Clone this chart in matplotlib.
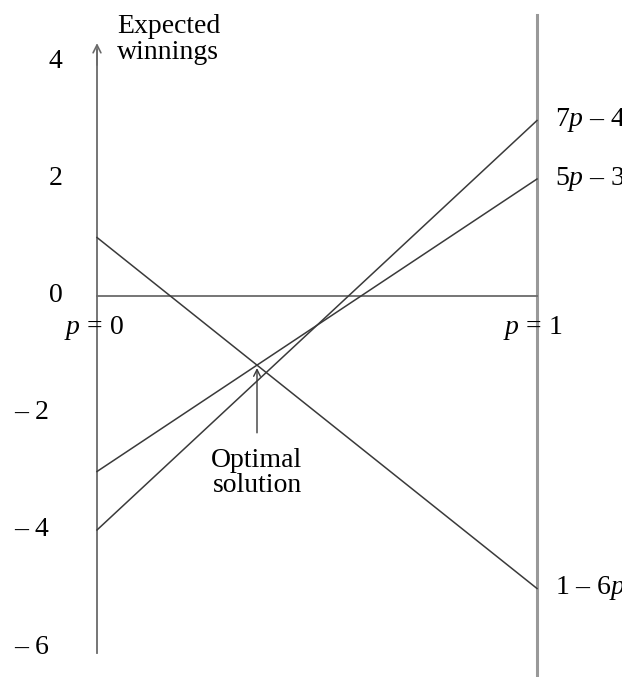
import matplotlib
matplotlib.use('Agg')
import matplotlib.pyplot as plt
import numpy as np

plt.rcParams['font.family'] = ['Liberation Serif', 'DejaVu Serif']
plt.rcParams['mathtext.fontset'] = 'custom'
plt.rcParams['mathtext.it'] = 'Liberation Serif:italic'
plt.rcParams['mathtext.rm'] = 'Liberation Serif'

# 数据: 各策略在 p=0 和 p=1 时的期望收益
p_ends = [0, 1]
line_names = ['$7p$ \u2013 4', '$5p$ \u2013 3', '1 \u2013 $6p$']
line_values = [[-4, 3], [-3, 2], [1, -5]]
y_ticks = [4, 2, 0, -2, -4, -6]
y_tick_labels = ['4', '2', '0', '\u2013 2', '\u2013 4', '\u2013 6']

# 最优解: 5p-3 与 1-6p 的交点
opt_p = 4 / 11
opt_v = 5 * opt_p - 3

fig = plt.figure(figsize=(6.22, 6.77), dpi=100)
ax = fig.add_axes([0, 0, 1, 1])
ax.set_xlim(-97 / 440, 525 / 440)
ax.set_ylim(-381 / 58.5, 296 / 58.5)
ax.axis('off')

line_col = '#3a3a3a'
axis_col = '#6a6a6a'
fs = 20

# 坐标轴
ax.plot([0, 0], [-6.1, 4.2], color=axis_col, lw=1.3)
ax.annotate('', xy=(0, 4.37), xytext=(0, 3.9),
            arrowprops=dict(arrowstyle='->', color=axis_col, lw=1.2, mutation_scale=14))
ax.plot([1, 1], [-6.6, 4.8], color='#999999', lw=2.2)
ax.plot([0, 1], [0, 0], color=axis_col, lw=1.3)

# 三条收益线
for name, vals in zip(line_names, line_values):
    ax.plot(p_ends, vals, color=line_col, lw=1.1)
    ax.text(1.04, vals[1], name, fontsize=fs, va='center', ha='left')

# y 轴刻度标签 (负数标签略靠左)
for t, lab in zip(y_ticks, y_tick_labels):
    x_lab = -0.078 if t >= 0 else -0.11
    ax.text(x_lab, t, lab, fontsize=fs, va='center', ha='right')

ax.text(0.045, 4.82, 'Expected\nwinnings', fontsize=fs, va='top', ha='left', linespacing=1.05)
ax.text(-0.008, -0.55, '$p$ = 0', fontsize=fs, va='center', ha='center')
ax.text(0.99, -0.55, '$p$ = 1', fontsize=fs, va='center', ha='center')

ax.annotate('Optimal\nsolution', xy=(opt_p, opt_v - 0.05), xytext=(opt_p, -2.6),
            fontsize=fs, ha='center', va='top', linespacing=1.0,
            arrowprops=dict(arrowstyle='->', color=line_col, lw=1.0, mutation_scale=12,
                            shrinkA=9, shrinkB=0))

fig.savefig('out.png', dpi=100)
